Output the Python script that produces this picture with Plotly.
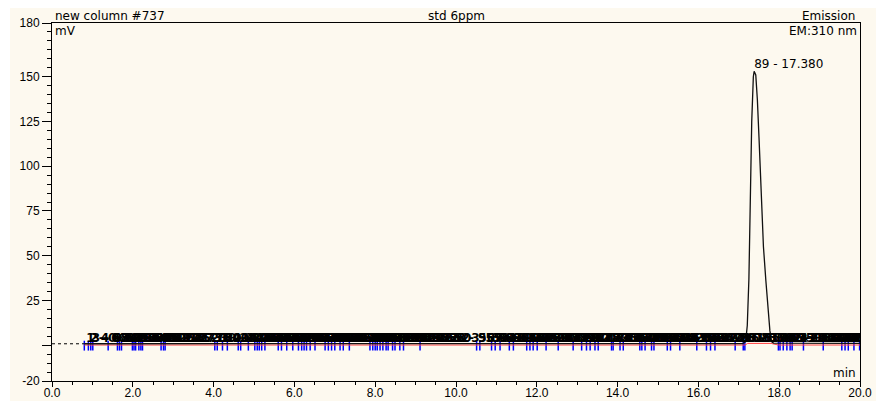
import plotly.graph_objects as go

# ---- chromatogram data -------------------------------------------------
# detector signal (min, mV)
sig_t = [0.0, 0.80, 17.10, 17.17, 17.21, 17.25, 17.28, 17.32, 17.36, 17.38,
         17.42, 17.46, 17.50, 17.54, 17.57, 17.61, 17.67, 17.72, 17.77, 17.81,
         17.86, 20.0]
sig_mv = [0.8, 0.8, 0.9, 2.0, 11.0, 37.0, 82.0, 125.0, 150.0, 153.0,
          151.0, 137.0, 116.0, 96.0, 74.0, 55.0, 36.0, 19.5, 8.0, 2.0,
          1.2, 1.0]

# integration baseline (min, mV)
base_t = [0.80, 17.15, 17.22, 17.80, 17.98, 20.0]
base_mv = [0.1, 0.1, 1.0, 1.0, 0.1, 0.1]

# peak start / end delimiters (min)
delim_t = [0.80, 0.90, 0.96, 1.01, 1.39, 1.62, 1.67, 1.72, 1.99, 2.03, 2.07,
           2.15, 2.20, 2.24, 2.70, 2.76, 2.80, 4.03, 4.09, 4.22, 4.34, 4.61,
           4.67, 4.86, 5.02, 5.08, 5.13, 5.19, 5.27, 5.60, 5.68, 5.81, 5.96,
           6.10, 6.18, 6.24, 6.30, 6.39, 6.51, 6.76, 6.84, 6.92, 7.00, 7.13,
           7.21, 7.36, 7.87, 7.94, 8.00, 8.05, 8.12, 8.19, 8.27, 8.32, 8.43,
           8.49, 8.61, 8.70, 9.11, 10.51, 10.59, 10.88, 10.97, 11.09, 11.32,
           11.42, 11.75, 11.83, 11.91, 12.01, 12.23, 12.53, 12.90, 13.11,
           13.23, 13.32, 13.44, 13.52, 13.85, 13.89, 14.06, 14.14, 14.55,
           14.60, 14.68, 14.84, 14.90, 15.23, 15.31, 15.54, 15.96, 16.20,
           16.30, 16.41, 16.91, 17.11, 17.15, 17.98, 18.02, 18.10, 18.19,
           18.27, 18.32, 18.60, 19.09, 19.55, 19.63, 19.71, 19.85, 19.99]

# retention times of detected peaks, in peak-number order (min)
peak_rt = [0.847, 0.931, 0.985, 1.204, 1.503, 1.641, 1.698, 1.852, 2.011, 2.052,
           2.113, 2.172, 2.221, 2.452, 2.731, 2.779, 3.404, 4.061, 4.153, 4.281,
           4.472, 4.641, 4.762, 4.943, 5.053, 5.162, 5.231, 5.433, 5.642, 5.741,
           5.883, 6.032, 6.141, 6.212, 6.343, 6.452, 6.631, 6.802, 6.881, 6.962,
           7.061, 7.172, 7.283, 7.612, 7.903, 7.971, 8.022, 8.153, 8.232, 8.372,
           8.461, 8.553, 8.652, 8.903, 9.804, 10.552, 10.733, 10.921, 11.033, 11.204,
           11.371, 11.582, 11.791, 11.962, 12.121, 12.382, 12.713, 13.002, 13.171, 13.381,
           13.482, 13.683, 13.872, 13.971, 14.102, 14.343, 14.571, 14.762, 14.871, 15.062,
           15.272, 15.423, 15.751, 16.083, 16.251, 16.352, 16.662, 17.021,
           17.380,
           18.004, 18.061, 18.142, 18.231, 18.293, 18.452, 18.853, 19.302, 19.593,
           19.672, 19.781, 19.921]
main_peak_no = 89

# axis ticks
x_tickvals = [0, 2, 4, 6, 8, 10, 12, 14, 16, 18, 20]
x_ticktext = ["0.0", "2.0", "4.0", "6.0", "8.0", "10.0", "12.0", "14.0",
              "16.0", "18.0", "20.0"]
y_tickvals = [-20, 0, 25, 50, 75, 100, 125, 150, 180]
y_ticktext = ["-20", "", "25", "50", "75", "100", "125", "150", "180"]

# ---- styling -----------------------------------------------------------
W, H = 876, 401
ML, MR, MT, MB = 52, 16, 23, 20
PW, PH = W - ML - MR, H - MT - MB
CREAM = "#FDF9EF"
LBL_FONT = dict(family="DejaVu Sans", size=12, color="#000000")
PEAK_FONT = dict(family="DejaVu Sans", size=12, color="#000000", weight="bold")
TICK_FONT = dict(family="Liberation Sans", size=12, color="#000000")
LABEL_LEVEL = 0.3  # height where small-peak labels sit


def px_x(p):
    return (p - ML) / PW


def px_y(p):
    return (H - MB - p) / PH


fig = go.Figure()

# peak delimiters
dx, dy = [], []
for t in delim_t:
    dx += [t, t, None]
    dy += [2.5, -3.0, None]
fig.add_trace(go.Scatter(x=dx, y=dy, mode="lines",
                         line=dict(color="#0000FF", width=1.5),
                         hoverinfo="skip", showlegend=False))

# baseline
fig.add_trace(go.Scatter(x=base_t, y=base_mv, mode="lines",
                         line=dict(color="#FF4040", width=1),
                         hoverinfo="skip", showlegend=False))

# signal before the first peak (dotted) and the full signal
n_pre = sum(1 for t in sig_t if t <= 0.8)
fig.add_trace(go.Scatter(x=sig_t[:n_pre], y=sig_mv[:n_pre], mode="lines",
                         line=dict(color="#000000", width=1, dash="dot"),
                         hoverinfo="skip", showlegend=False))
fig.add_trace(go.Scatter(x=sig_t[n_pre - 1:], y=sig_mv[n_pre - 1:], mode="lines",
                         line=dict(color="#111111", width=1.3),
                         showlegend=False))

# peak labels
small_t, small_txt = [], []
for no, rt in enumerate(peak_rt, start=1):
    if no == main_peak_no:
        continue
    small_t.append(rt)
    small_txt.append(f"{no} - {rt:.3f}")
fig.add_trace(go.Scatter(x=small_t, y=[LABEL_LEVEL] * len(small_t),
                         mode="text", text=small_txt,
                         textposition="top right", textfont=PEAK_FONT,
                         cliponaxis=True, hoverinfo="skip", showlegend=False))

main_rt = peak_rt[main_peak_no - 1]
main_h = max(sig_mv)
fig.add_trace(go.Scatter(x=[main_rt], y=[main_h], mode="text",
                         text=[f"{main_peak_no} - {main_rt:.3f}"],
                         textposition="top right", textfont=LBL_FONT,
                         cliponaxis=False, hoverinfo="skip", showlegend=False))

# header / unit texts
ann = [
    dict(text="new column #737", x=px_x(53), y=px_y(16), xanchor="left"),
    dict(text="std 6ppm", x=0.5, y=px_y(16), xanchor="center"),
    dict(text="Emission", x=px_x(857), y=px_y(16), xanchor="right"),
    dict(text="EM:310 nm", x=px_x(859), y=px_y(31), xanchor="right"),
    dict(text="mV", x=px_x(53), y=px_y(31), xanchor="left"),
    dict(text="min", x=px_x(858), y=px_y(373), xanchor="right"),
]
for a in ann:
    fig.add_annotation(xref="paper", yref="paper", yanchor="middle",
                       showarrow=False, font=LBL_FONT, **a)

# white strips around the cream page
fig.add_shape(type="rect", xref="paper", yref="paper",
              x0=px_x(0), x1=px_x(W), y0=px_y(8), y1=px_y(0),
              fillcolor="#FFFFFF", line_width=0, layer="below")
fig.add_shape(type="rect", xref="paper", yref="paper",
              x0=px_x(0), x1=px_x(10), y0=px_y(H), y1=px_y(0),
              fillcolor="#FFFFFF", line_width=0, layer="below")

fig.update_xaxes(range=[0, 20], tickmode="array", tickvals=x_tickvals,
                 ticktext=x_ticktext, ticks="outside", ticklen=5,
                 tickcolor="#000000", tickfont=TICK_FONT, automargin=False,
                 ticklabelstandoff=-4,
                 minor=dict(dtick=0.5, tick0=0, ticks="outside", ticklen=3,
                            tickcolor="#000000"),
                 showline=True, linecolor="#000000", linewidth=1, mirror=True,
                 showgrid=False, zeroline=False)
fig.update_yaxes(range=[-20, 180], tickmode="array", tickvals=y_tickvals,
                 ticktext=y_ticktext, ticks="outside", ticklen=9,
                 tickcolor="#000000", tickfont=TICK_FONT, automargin=False,
                 minor=dict(dtick=5, tick0=0, ticks="outside", ticklen=4,
                            tickcolor="#000000"),
                 showline=True, linecolor="#000000", linewidth=1, mirror=True,
                 showgrid=False, zeroline=False)

fig.update_layout(width=W, height=H,
                  margin=dict(l=ML, r=MR, t=MT, b=MB, pad=0, autoexpand=False),
                  paper_bgcolor=CREAM, plot_bgcolor=CREAM,
                  showlegend=False)

fig.write_html("out.html")
